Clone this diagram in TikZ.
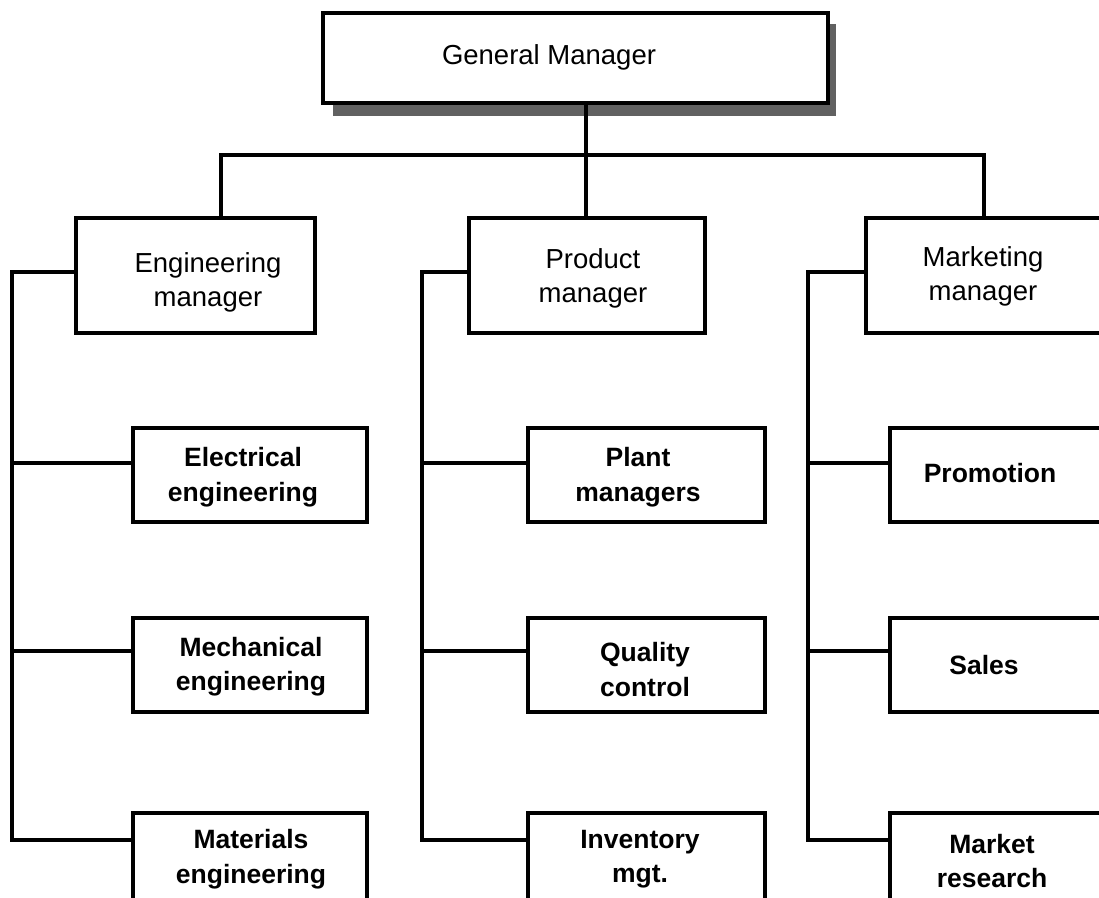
\documentclass[tikz,border=0pt]{standalone}
\usepackage{fontspec}
\setmainfont{Liberation Sans}
\begin{document}
\begin{tikzpicture}[x=1pt,y=-1pt,
  box/.style={draw=black,line width=4pt,fill=white,inner sep=0pt},
  conn/.style={draw=black,line width=3.6pt},
  toptext/.style={font=\fontsize{27.5}{34}\selectfont,align=center,inner sep=0pt},
  subtext/.style={font=\fontsize{26.5}{34.5}\selectfont\bfseries,align=center,inner sep=0pt}]
\useasboundingbox (0,0) rectangle (1099,897);
% shadow of top box
\fill[black!62] (333,24) rectangle (836,116);
\node[box,minimum width=505pt,minimum height=90pt] (gm) at (575.5,58) {};
\node[toptext] (gmT) at (549,57) {General Manager};
% level 2
\node[box,minimum width=239pt,minimum height=115pt] (eng) at (195.5,275.5) {};
\node[box,minimum width=236pt,minimum height=115pt] (prod) at (587,275.5) {};
\node[box,minimum width=237pt,minimum height=115pt] (mkt) at (984.5,275.5) {};
\node[toptext] (engT) at (208,282) {Engineering\\manager};
\node[toptext] (prodT) at (593,278) {Product\\manager};
\node[toptext] (mktT) at (983,276) {Marketing\\manager};
% level 3 boxes
\node[box,minimum width=234pt,minimum height=94pt] (elec) at (250,475) {};
\node[box,minimum width=234pt,minimum height=94pt] (mech) at (250,665) {};
\node[box,minimum width=234pt,minimum height=94pt] (mat) at (250,860) {};
\node[box,minimum width=237pt,minimum height=94pt] (plant) at (646.5,475) {};
\node[box,minimum width=237pt,minimum height=94pt] (qual) at (646.5,665) {};
\node[box,minimum width=237pt,minimum height=94pt] (inv) at (646.5,860) {};
\node[box,minimum width=236pt,minimum height=94pt] (prom) at (1008,475) {};
\node[box,minimum width=236pt,minimum height=94pt] (sales) at (1008,665) {};
\node[box,minimum width=236pt,minimum height=94pt] (mres) at (1008,860) {};
\node[subtext] (elecT) at (243,477) {Electrical\\engineering};
\node[subtext] (mechT) at (251,666.5) {Mechanical\\engineering};
\node[subtext] (matT) at (251,859) {Materials\\engineering};
\node[subtext] (plantT) at (638,477) {Plant\\managers};
\node[subtext] (qualT) at (645,669.5) {Quality\\control};
\node[subtext] (invT) at (640,859) {Inventory\\mgt.};
\node[subtext] (promT) at (990,473) {Promotion};
\node[subtext] (salesT) at (984,665) {Sales};
\node[subtext] (mresT) at (992,861) {Market\\research};
% bus
\coordinate (gx) at (586,155);
\coordinate (ex) at (221,155);
\coordinate (mx) at (984,155);
\draw[conn] (gm.south -| gx) -- (gx);
\draw[conn,line cap=rect] (ex) -- (mx);
\draw[conn] (ex) -- (eng.north -| ex);
\draw[conn] (gx) -- (prod.north -| gx);
\draw[conn] (mx) -- (mkt.north -| mx);
% spines
\coordinate (sE) at (12,272);
\coordinate (sP) at (422,272);
\coordinate (sM) at (808,272);
\coordinate (eB1) at (12,463);
\coordinate (eB2) at (12,651);
\coordinate (eB3) at (12,840);
\coordinate (pB1) at (422,463);
\coordinate (pB2) at (422,651);
\coordinate (pB3) at (422,840);
\coordinate (mB1) at (808,463);
\coordinate (mB2) at (808,651);
\coordinate (mB3) at (808,840);
\draw[conn,line join=miter] (eng.west |- sE) -- (sE) -- (eB3) -- (mat.west |- eB3);
\draw[conn] (eB1) -- (elec.west |- eB1);
\draw[conn] (eB2) -- (mech.west |- eB2);
\draw[conn,line join=miter] (prod.west |- sP) -- (sP) -- (pB3) -- (inv.west |- pB3);
\draw[conn] (pB1) -- (plant.west |- pB1);
\draw[conn] (pB2) -- (qual.west |- pB2);
\draw[conn,line join=miter] (mkt.west |- sM) -- (sM) -- (mB3) -- (mres.west |- mB3);
\draw[conn] (mB1) -- (prom.west |- mB1);
\draw[conn] (mB2) -- (sales.west |- mB2);
\end{tikzpicture}
\end{document}
